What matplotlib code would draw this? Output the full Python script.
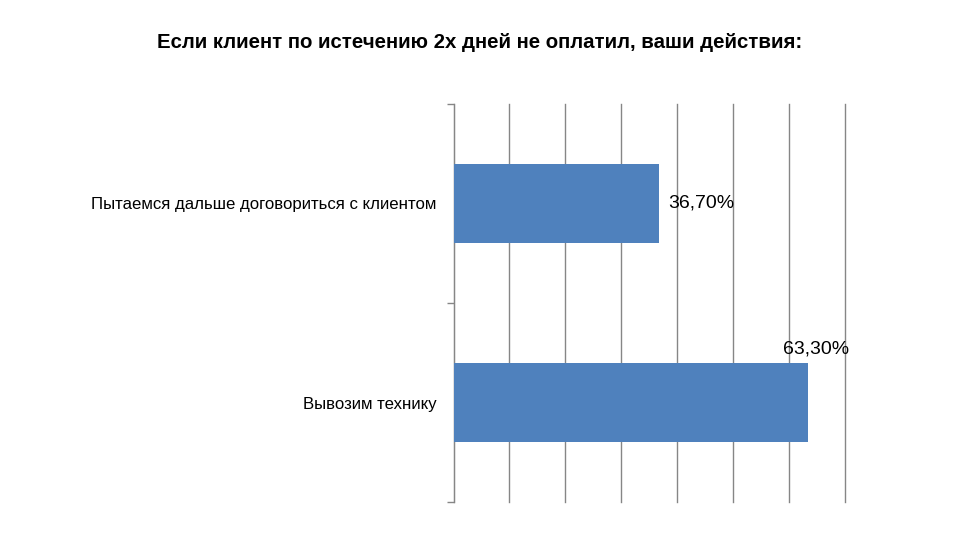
import matplotlib
matplotlib.use('Agg')
import matplotlib.pyplot as plt

plt.rcParams['font.family'] = ['Liberation Sans', 'DejaVu Sans']

categories = ['Пытаемся дальше договориться с клиентом', 'Вывозим технику']
values = [36.7, 63.3]
labels = ['36,70%', '63,30%']
title = 'Если клиент по истечению 2х дней не оплатил, ваши действия:'

bar_color = '#4F81BD'
grid_color = '#868686'

fig = plt.figure(figsize=(9.6, 5.4), dpi=100)
ax = fig.add_axes([453.5 / 960, 1 - 502 / 540, (845 - 453.5) / 960, (502 - 104) / 540])

ypos = list(range(len(categories)))
ax.barh(ypos, values, height=0.4, color=bar_color, zorder=3)

ax.set_xlim(0, 70)
ax.set_ylim(len(categories) - 0.5, -0.5)
ax.set_xticks(range(0, 71, 10))
ax.tick_params(axis='x', length=0, labelbottom=False)
ax.xaxis.grid(True, color=grid_color, linewidth=1.0, zorder=0)
for gl in ax.get_xgridlines():
    gl.set_clip_on(False)

ax.set_yticks(ypos)
ax.set_yticklabels(categories, fontsize=12.1)
ax.tick_params(axis='y', which='major', length=0, pad=12)
ax.set_yticks([i - 0.5 for i in range(len(categories) + 1)], minor=True)
ax.tick_params(axis='y', which='minor', length=5, color=grid_color, width=1)

for s in ['top', 'right', 'bottom']:
    ax.spines[s].set_visible(False)
ax.spines['left'].set_color(grid_color)

# подписи значений
ax.annotate(labels[0], (values[0], ypos[0]), xytext=(7, 0), textcoords='offset points',
            ha='left', va='center', fontsize=14)
ax.annotate(labels[1], (values[1], ypos[1] - 0.2), xytext=(6, 4), textcoords='offset points',
            ha='center', va='bottom', fontsize=14)

fig.text(0.5, 1 - 43 / 540, title, ha='center', va='center', fontsize=14.7, fontweight='bold')

fig.savefig('out.png', dpi=100)
